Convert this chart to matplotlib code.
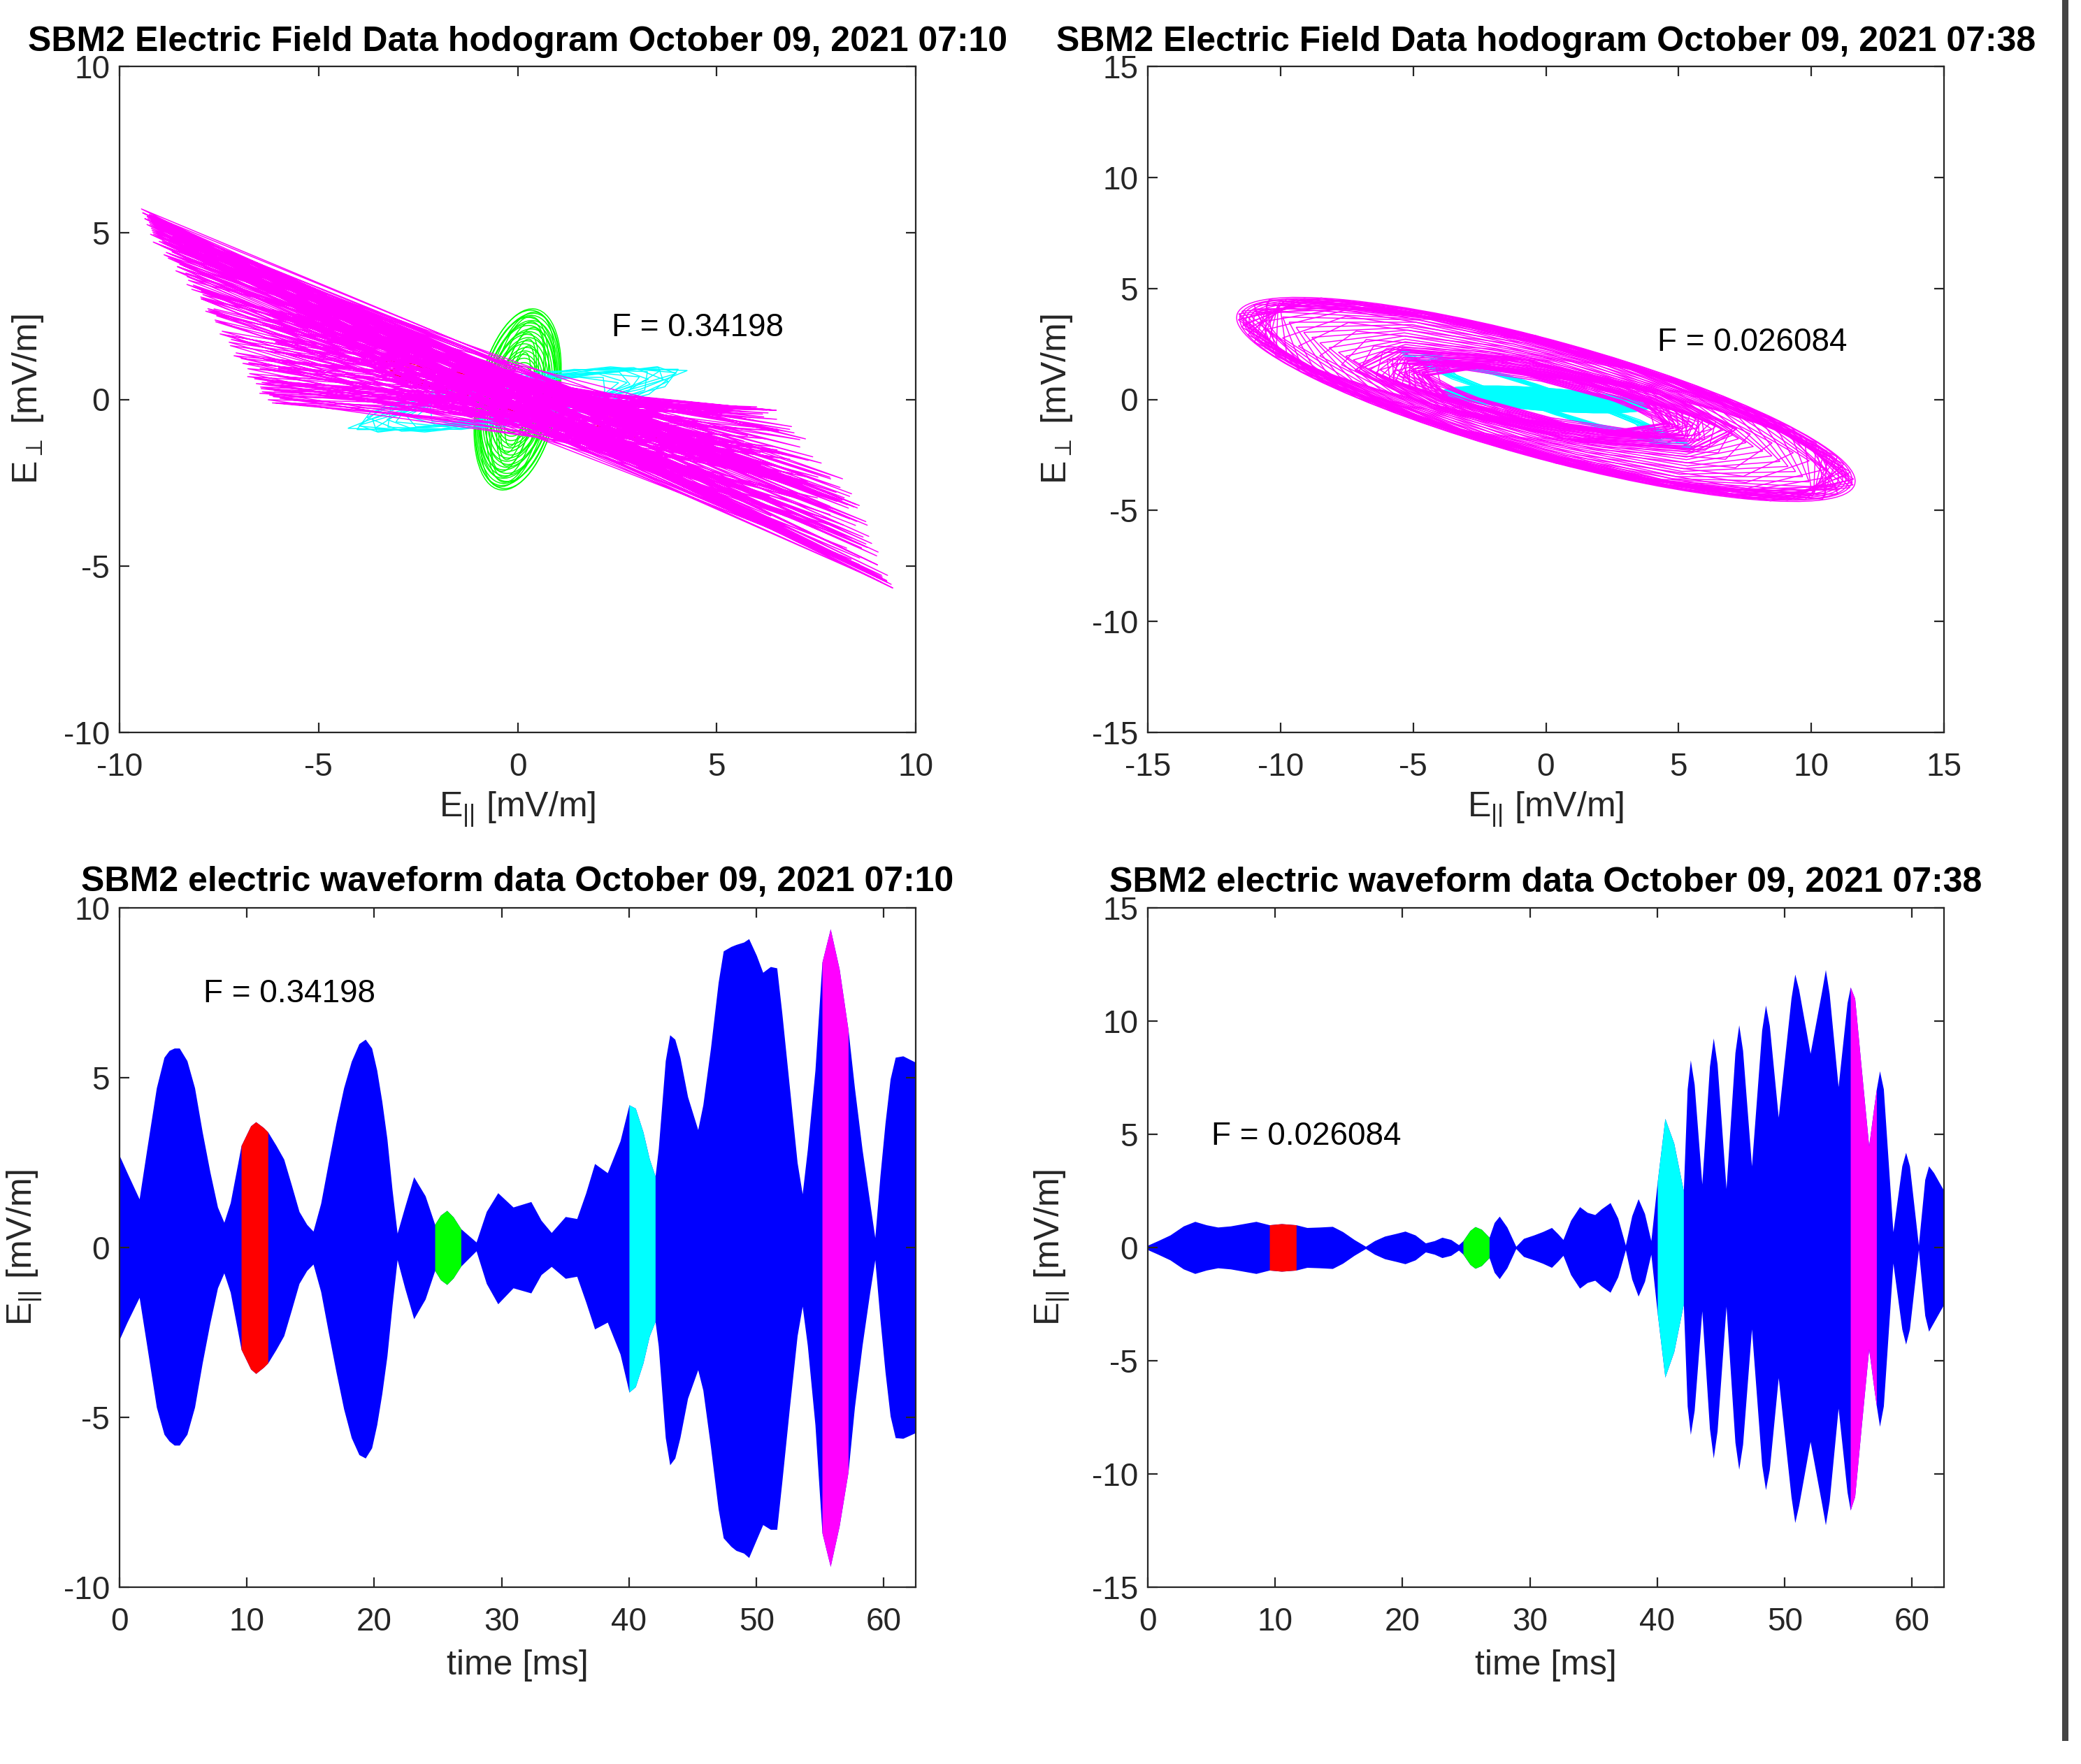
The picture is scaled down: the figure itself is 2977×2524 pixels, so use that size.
import numpy as np
import matplotlib
matplotlib.use("Agg")
import matplotlib.pyplot as plt
from matplotlib.patches import Ellipse, PathPatch, Rectangle
from matplotlib.path import Path
from matplotlib.transforms import Affine2D

# ---------------------------------------------------------------- text
TITLE_TL = "SBM2 Electric Field Data hodogram October 09, 2021 07:10"
TITLE_TR = "SBM2 Electric Field Data hodogram October 09, 2021 07:38"
TITLE_BL = "SBM2 electric waveform data October 09, 2021 07:10"
TITLE_BR = "SBM2 electric waveform data October 09, 2021 07:38"
F_TEXT_1 = "F = 0.34198"
F_TEXT_2 = "F = 0.026084"
XLAB_HODO = r"E$_{||}$ [mV/m]"
YLAB_HODO = r"E$_{\perp}$ [mV/m]"
XLAB_WAVE = "time [ms]"
YLAB_WAVE = r"E$_{||}$ [mV/m]"

# ---------------------------------------------------------------- segments
SEG_START = [9.55, 24.75, 40.0, 55.15]
SEG_END = [11.65, 26.8, 42.05, 57.2]
SEG_COLORS = ["#FF0000", "#00FF00", "#00FFFF", "#FF00FF"]
WAVE_COLOR = "#0000FF"

# ---------------------------------------------------------------- waveform envelopes (07:10)
BL_T = [0.0, 0.6, 1.55, 2.15, 2.9, 3.5, 3.9, 4.3, 4.7, 5.3,
        5.9, 6.5, 7.1, 7.7, 8.2, 8.7, 9.3, 9.55, 10.3, 10.7,
        11.3, 11.65, 12.3, 12.9, 13.5, 14.1, 14.7, 15.2, 15.8, 16.4,
        17.0, 17.6, 18.2, 18.8, 19.3, 19.8, 20.2, 20.6, 21.0, 21.4,
        21.8, 22.4, 23.1, 24.0, 24.75, 25.2, 25.7, 26.2, 26.8, 28.0,
        28.8, 29.7, 30.9, 32.3, 33.1, 33.9, 35.0, 35.9, 36.6, 37.3,
        38.3, 39.3, 40.0, 40.5, 41.1, 41.6, 42.05, 42.3, 42.85, 43.2,
        43.6, 44.0, 44.6, 45.4, 45.8, 46.4, 47.0, 47.4, 48.0, 48.4,
        49.0, 49.4, 50.0, 50.5, 51.1, 51.6, 52.0, 52.6, 53.2, 53.6,
        54.0, 54.6, 55.15, 55.8, 56.5, 57.2, 57.7, 58.3, 58.9, 59.3,
        59.7, 60.1, 60.5, 60.9, 61.5, 62.5]
BL_UP = [2.7, 2.2, 1.43, 2.9, 4.7, 5.6, 5.8, 5.87, 5.87, 5.5,
         4.7, 3.4, 2.23, 1.19, 0.74, 1.32, 2.5, 3.0, 3.58, 3.7,
         3.53, 3.4, 3.0, 2.6, 1.84, 1.06, 0.68, 0.48, 1.3, 2.5,
         3.66, 4.7, 5.48, 6.0, 6.13, 5.87, 5.22, 4.3, 3.2, 1.71,
         0.42, 1.2, 2.08, 1.52, 0.68, 0.95, 1.09, 0.9, 0.55, 0.16,
         1.06, 1.61, 1.19, 1.35, 0.8, 0.44, 0.91, 0.85, 1.6, 2.47,
         2.2, 3.14, 4.2, 4.1, 3.4, 2.6, 2.1, 2.9, 5.5, 6.26,
         6.13, 5.6, 4.44, 3.47, 4.2, 5.87, 7.8, 8.73, 8.86, 8.92,
         8.99, 9.09, 8.6, 8.1, 8.27, 8.23, 6.9, 4.7, 2.5, 1.58,
         2.88, 5.22, 8.4, 9.38, 8.2, 6.4, 4.7, 2.88, 1.32, 0.29,
         2.1, 3.66, 4.96, 5.6, 5.64, 5.45]
BL_LO = [-2.7, -2.2, -1.47, -2.9, -4.7, -5.5, -5.7, -5.82, -5.82, -5.5,
         -4.7, -3.4, -2.23, -1.19, -0.75, -1.32, -2.5, -3.0, -3.58, -3.71,
         -3.53, -3.4, -3.0, -2.6, -1.84, -1.06, -0.68, -0.49, -1.3, -2.5,
         -3.66, -4.75, -5.6, -6.1, -6.2, -5.9, -5.22, -4.3, -3.2, -1.71,
         -0.36, -1.2, -2.1, -1.52, -0.68, -0.95, -1.09, -0.9, -0.55, -0.1,
         -1.06, -1.66, -1.19, -1.34, -0.8, -0.56, -0.91, -0.85, -1.6, -2.4,
         -2.2, -3.14, -4.26, -4.1, -3.4, -2.6, -2.18, -2.9, -5.6, -6.4,
         -6.2, -5.6, -4.44, -3.6, -4.2, -5.87, -7.7, -8.55, -8.8, -8.92,
         -9.0, -9.13, -8.6, -8.16, -8.3, -8.3, -6.9, -4.7, -2.6, -1.73,
         -2.88, -5.22, -8.4, -9.39, -8.2, -6.6, -4.7, -2.88, -1.32, -0.36,
         -2.1, -3.66, -4.96, -5.6, -5.62, -5.45]

# ---------------------------------------------------------------- waveform envelopes (07:38)
BR_T = [0.0, 0.8, 1.75, 2.8, 3.7, 4.6, 5.5, 6.5, 7.5, 8.5,
        9.55, 10.5, 11.65, 12.5, 13.5, 14.5, 15.3, 16.2, 17.1, 17.8,
        18.6, 19.5, 20.2, 21.0, 21.8, 22.5, 23.1, 23.8, 24.4, 24.75,
        25.3, 25.7, 26.2, 26.8, 27.2, 27.6, 28.2, 28.9, 29.5, 30.3,
        31.0, 31.7, 32.2, 32.6, 33.2, 33.9, 34.5, 35.1, 35.6, 36.3,
        36.9, 37.5, 38.0, 38.5, 39.0, 39.5, 40.0, 40.6, 41.3, 42.05,
        42.35, 42.6, 42.9, 43.5, 44.1, 44.4, 44.7, 45.4, 46.1, 46.4,
        46.7, 47.4, 48.2, 48.5, 48.8, 49.5, 50.5, 50.8, 51.1, 52.0,
        52.9, 53.2, 53.5, 54.2, 54.9, 55.15, 55.5, 56.0, 56.6, 57.0,
        57.2, 57.45, 57.75, 58.5, 59.2, 59.5, 59.8, 60.5, 61.0, 61.3,
        61.7, 62.5]
BR_UP = [0.1, 0.3, 0.55, 0.95, 1.15, 1.0, 0.9, 0.95, 1.05, 1.15,
         1.0, 1.05, 1.0, 0.88, 0.9, 0.93, 0.7, 0.35, 0.05, 0.3,
         0.5, 0.62, 0.72, 0.55, 0.2, 0.3, 0.45, 0.35, 0.12, 0.3,
         0.75, 0.92, 0.8, 0.45, 1.1, 1.38, 0.9, 0.05, 0.4, 0.55,
         0.7, 0.88, 0.6, 0.35, 1.2, 1.8, 1.55, 1.45, 1.7, 1.98,
         1.3, 0.1, 1.4, 2.15, 1.5, 0.3, 2.9, 5.7, 4.6, 2.5,
         7.0, 8.28, 7.2, 2.8, 8.0, 9.25, 8.1, 2.6, 8.6, 9.83,
         8.7, 3.6, 9.6, 10.7, 9.8, 5.75, 11.0, 12.07, 11.4, 8.57,
         11.3, 12.27, 11.2, 7.1, 10.8, 11.5, 11.0, 8.0, 4.48, 6.2,
         7.0, 7.8, 7.0, 0.69, 3.6, 4.2, 3.6, 0.1, 3.0, 3.6,
         3.3, 2.5]
BR_LO = [-0.1, -0.3, -0.55, -0.95, -1.15, -1.0, -0.9, -0.95, -1.05, -1.15,
         -1.0, -1.05, -1.0, -0.88, -0.9, -0.93, -0.7, -0.35, -0.05, -0.3,
         -0.5, -0.62, -0.72, -0.55, -0.2, -0.3, -0.45, -0.35, -0.12, -0.3,
         -0.75, -0.92, -0.8, -0.45, -1.1, -1.38, -0.9, -0.05, -0.4, -0.55,
         -0.7, -0.88, -0.6, -0.35, -1.2, -1.8, -1.55, -1.45, -1.7, -1.98,
         -1.3, -0.1, -1.4, -2.15, -1.5, -0.3, -2.9, -5.73, -4.6, -2.5,
         -7.0, -8.26, -7.2, -2.8, -8.0, -9.3, -8.1, -2.6, -8.6, -9.8,
         -8.7, -3.6, -9.6, -10.7, -9.8, -5.75, -11.0, -12.15, -11.4, -8.57,
         -11.3, -12.25, -11.2, -7.1, -10.8, -11.6, -11.0, -8.0, -4.48, -6.2,
         -7.0, -7.9, -7.0, -0.69, -3.6, -4.27, -3.6, -0.1, -3.0, -3.7,
         -3.3, -2.5]

# ---------------------------------------------------------------- hodogram 07:10
TL_RED_A = [3.86, 3.75, 3.64, 3.52, 3.4, 3.28, 3.15, 3.0]
TL_RED_B = [0.4, 0.36, 0.42, 0.33, 0.38, 0.3, 0.35, 0.28]
TL_RED_TILT = [-16.5, -16.0, -17.0, -16.2, -16.8, -15.8, -16.5, -17.2]
TL_GREEN_A = [2.75, 2.7, 2.62, 2.55, 2.48, 2.4, 2.32, 2.24, 2.15, 2.06,
              1.97, 1.88, 1.78, 1.68, 1.58, 1.47, 1.36, 1.25, 1.12, 1.0,
              2.66, 2.51, 2.36, 2.2, 2.02, 1.83, 1.63, 1.42]
TL_GREEN_B = [1.02, 1.0, 0.98, 0.96, 0.94, 0.92, 0.9, 0.88, 0.85, 0.82,
              0.79, 0.76, 0.72, 0.68, 0.64, 0.6, 0.56, 0.52, 0.48, 0.43,
              0.82, 0.7, 0.6, 0.52, 0.45, 0.38, 0.32, 0.26]
TL_GREEN_TILT = [81, 82, 80, 81, 83, 80, 81, 82, 79, 81,
                 82, 80, 81, 83, 80, 81, 82, 81, 80, 81,
                 80, 82, 81, 79, 82, 81, 80, 82]
TL_CYAN_A = [4.35, 4.28, 4.2, 4.1, 3.98, 3.85, 3.7, 3.55, 3.4, 3.2, 3.0, 2.8, 2.6, 2.4]
TL_CYAN_B = [0.45, 0.6, 0.4, 0.7, 0.5, 0.75, 0.55, 0.7, 0.5, 0.65, 0.55, 0.6, 0.5, 0.55]
TL_CYAN_TILT = [11.5, 10.5, 12.5, 10, 12, 9.5, 13, 10.5, 12, 10, 12.5, 11, 10, 12]
TL_CYAN_PHASE = [0, 15, 30, 8, 23, 38, 4, 19, 34, 12, 27, 42, 6, 21]
# magenta: corner points of the hodogram and per-half-cycle position/amplitude
TL_MAG_UL = (-9.45, 5.72)
TL_MAG_L = (-7.7, -0.13)
TL_MAG_LR = (9.42, -5.66)
TL_MAG_R = (7.6, -0.28)
TL_MAG_S = [0.45, 0.38, 0.41, 0.32, 0.35, 0.26, 0.29, 0.20, 0.23, 0.15,
            0.17, 0.10, 0.12, 0.05, 0.08, 0.02, 0.04, 0.00, 0.03, 0.01,
            0.06, 0.10, 0.07, 0.14, 0.18, 0.13, 0.23, 0.28, 0.24, 0.34,
            0.40, 0.36, 0.47, 0.53, 0.49, 0.60, 0.66, 0.62, 0.73, 0.79,
            0.75, 0.85, 0.90, 0.87, 0.95, 1.00, 0.96, 0.92, 0.97, 0.88,
            0.82, 0.76, 0.70, 0.64, 0.57, 0.50, 0.44, 0.37, 0.31, 0.25,
            0.20, 0.15, 0.22, 0.11, 0.17, 0.07, 0.13, 0.04, 0.09, 0.02,
            0.06, 0.01, 0.05, 0.10, 0.03, 0.12, 0.18, 0.14, 0.24, 0.30,
            0.26, 0.35, 0.41, 0.37, 0.46, 0.52, 0.48, 0.58, 0.64, 0.60,
            0.70, 0.76, 0.72, 0.82, 0.88, 0.84, 0.93, 0.98, 0.94, 1.00,
            0.91, 0.86, 0.78, 0.71, 0.65, 0.55, 0.47, 0.39, 0.33, 0.27,
            0.21, 0.16, 0.11, 0.07, 0.03, 0.00, 0.04, 0.08, 0.15, 0.22]
TL_MAG_R_POS = [0.75, 0.13, 0.81, 0.22, 0.50, 0.00, 0.54, 0.20, 0.03, 0.50,
                0.05, 0.52, 0.17, 0.35, 0.00, 0.20, 0.44, 0.02, 0.28, 0.11,
                0.44, 0.00, 0.22, 0.44, 0.03, 0.18, 0.58, 0.03, 0.44, 0.29,
                0.70, 0.06, 0.57, 0.33, 0.84, 0.25, 0.86, 0.52, 0.98, 0.49,
                0.85, 0.65, 0.98, 0.52, 0.95, 0.72, 1.00, 0.77, 0.57, 0.98,
                0.57, 0.96, 0.65, 0.94, 0.27, 0.65, 0.29, 0.72, 0.11, 0.50,
                0.48, 0.03, 0.60, 0.03, 0.37, 0.02, 0.46, 0.04, 0.24, 0.07,
                0.46, 0.11, 0.00, 0.35, 0.03, 0.42, 0.03, 0.26, 0.59, 0.10,
                0.46, 0.05, 0.46, 0.67, 0.21, 0.67, 0.38, 0.88, 0.29, 0.80,
                0.55, 0.98, 0.42, 0.92, 0.68, 0.98, 0.55, 0.98, 0.84, 0.70,
                0.96, 0.64, 0.93, 0.36, 0.90, 0.45, 0.77, 0.19, 0.68, 0.22,
                0.51, 0.16, 0.51, 0.17, 0.23, 0.05, 0.39, 0.03, 0.35, 0.32]
TL_MAG_AMP = [0.88, 0.90, 0.91, 0.93, 0.94, 0.95, 0.96, 0.97, 0.97, 0.98,
              0.98, 0.99, 0.99, 1.00, 1.00, 1.00, 0.99, 1.00, 0.99, 0.98,
              0.98, 0.97, 0.97, 0.96, 0.95, 0.95, 0.94, 0.93, 0.93, 0.92,
              0.91, 0.90, 0.90, 0.89, 0.88, 0.87, 0.87, 0.86, 0.85, 0.84,
              0.83, 0.83, 0.82, 0.81, 0.80, 0.79, 0.79, 0.78, 0.77, 0.76,
              0.75, 0.74, 0.74, 0.73, 0.72, 0.71, 0.71, 0.70, 0.69, 0.68,
              0.96, 0.97, 0.98, 0.99, 1.00, 0.99, 1.00, 0.98, 0.99, 1.00,
              0.99, 0.98, 1.00, 0.97, 0.99, 0.96, 0.95, 0.97, 0.94, 0.93,
              0.95, 0.92, 0.91, 0.93, 0.90, 0.89, 0.91, 0.88, 0.87, 0.89,
              0.86, 0.85, 0.87, 0.84, 0.83, 0.85, 0.82, 0.81, 0.83, 0.80,
              0.82, 0.79, 0.80, 0.78, 0.76, 0.74, 0.72, 0.70, 0.66, 0.62,
              0.58, 0.62, 0.68, 0.74, 0.80, 0.86, 0.90, 0.93, 0.95, 0.96]

# ---------------------------------------------------------------- hodogram 07:38
TR_RED_A = [1.15, 1.0, 0.9]
TR_RED_B = [0.2, 0.18, 0.15]
TR_RED_TILT = [-6, -5, -6]
TR_GREEN_A = [0.95, 0.8]
TR_GREEN_B = [0.3, 0.25]
TR_GREEN_TILT = [-8, -6]
TR_CYAN_CORE_A = [3.9, 3.8, 3.65, 3.5, 3.3, 3.1, 2.9, 2.6, 2.3, 2.0, 1.7, 1.4, 1.1]
TR_CYAN_CORE_B = [0.5, 0.48, 0.46, 0.44, 0.42, 0.4, 0.37, 0.34, 0.3, 0.26, 0.22, 0.18, 0.14]
TR_CYAN_CORE_TILT = [-5, -5, -5.5, -4.5, -5, -5.5, -5, -4.5, -5, -5, -5.5, -5, -5]
TR_CYAN_OUT_A = [6.0, 5.9, 5.8, 5.65, 5.5, 5.35, 5.15, 4.95, 4.75, 4.55, 4.35, 4.15]
TR_CYAN_OUT_B = [0.5, 0.48, 0.52, 0.46, 0.5, 0.44, 0.48, 0.42, 0.46, 0.4, 0.44, 0.4]
TR_CYAN_OUT_TILT = [-21.5, -22, -21, -21.5, -22.5, -20.5, -21.5, -22, -21, -21.5, -20.5, -21]
TR_CYAN_OUT_PHASE = [0, 3, 6, 9, 12, 15, 18, 21, 24, 27, 30, 33]
TR_MAG_A = [12.2, 12.15, 12.1, 12.2, 12.05, 12.15, 12.0, 11.95, 12.1, 11.9,
            11.85, 11.7, 11.5, 11.2, 10.9, 10.5, 10.1, 9.7, 9.3, 8.9,
            8.5, 8.1, 7.8, 7.5, 7.3, 7.1, 6.9, 6.7, 6.5, 6.3,
            6.1, 5.9, 5.7, 5.5, 5.3, 5.1, 4.9, 4.7, 4.6, 4.7,
            5.0, 5.4, 5.9, 6.4, 6.9, 7.2, 7.4, 7.5,
            12.2, 12.0, 11.8, 12.1, 11.9, 11.6, 12.15, 11.75, 11.4, 11.0,
            10.4, 9.8, 9.0, 8.2, 7.6, 7.0, 6.4, 5.8, 5.3, 4.9,
            4.7, 4.8, 5.2, 5.6,
            4.5, 4.8, 5.1, 5.4, 5.7, 6.0, 6.3, 6.6, 4.6, 5.0, 5.5, 6.1]
TR_MAG_B = [2.6, 2.58, 2.6, 2.62, 2.55, 2.6, 2.57, 2.54, 2.6, 2.52,
            2.5, 2.47, 2.43, 2.37, 2.31, 2.23, 2.15, 2.06, 1.98, 1.9,
            1.82, 1.74, 1.68, 1.62, 1.58, 1.54, 1.5, 1.46, 1.42, 1.38,
            1.34, 1.3, 1.26, 1.22, 1.18, 1.14, 1.1, 1.06, 1.04, 1.06,
            1.12, 1.2, 1.3, 1.4, 1.5, 1.56, 1.6, 1.62,
            2.6, 2.55, 2.5, 2.58, 2.53, 2.47, 2.6, 2.5, 2.42, 2.35,
            2.22, 2.08, 1.92, 1.76, 1.64, 1.52, 1.4, 1.28, 1.18, 1.1,
            1.05, 1.07, 1.15, 1.22,
            0.75, 0.8, 0.85, 0.9, 0.95, 1.0, 1.05, 1.1, 0.9, 0.95, 1.0, 1.1]
TR_MAG_TILT = [-18.4, -18.4, -18.3, -18.5, -18.4, -18.3, -18.4, -18.5, -18.3, -18.4,
               -18.3, -18.2, -18.0, -17.8, -17.5, -17.2, -16.9, -16.6, -16.3, -16.0,
               -15.7, -15.4, -15.1, -14.8, -14.5, -14.3, -14.1, -13.9, -13.7, -13.5,
               -13.3, -13.1, -12.9, -12.7, -12.5, -12.3, -12.1, -12.0, -12.0, -12.1,
               -12.3, -12.5, -12.7, -12.9, -13.0, -13.1, -13.2, -13.2,
               -18.4, -18.3, -18.5, -18.4, -18.2, -18.4, -18.3, -18.5, -18.1, -17.8,
               -17.3, -16.8, -16.0, -15.2, -14.6, -14.0, -13.5, -13.0, -12.6, -12.3,
               -12.0, -12.1, -12.4, -12.7,
               -15.0, -15.5, -16.0, -16.5, -15.0, -14.5, -14.0, -13.5, -17.0, -16.0,
               -15.0, -14.0]
TR_MAG_PHASE = [0, 2, 4, 6, 9, 11, 13, 15, 17, 20,
                22, 24, 26, 28, 31, 33, 35, 37, 39, 42,
                44, 46, 48, 50, 53, 55, 57, 59, 61, 64,
                66, 68, 70, 72, 75, 77, 79, 81, 83, 86,
                88, 90, 92, 94, 97, 99, 101, 103,
                23, 26, 29, 32, 35, 38, 41, 44, 47, 50,
                53, 56, 59, 62, 65, 68, 71, 74, 77, 80,
                83, 86, 89, 92,
                5, 8, 11, 14, 17, 20, 23, 26, 29, 32, 35, 38]
TR_MAG_RING_A = [12.25, 12.12, 12.0, 11.88, 11.75, 11.6]
TR_MAG_RING_B = [2.62, 2.6, 2.57, 2.55, 2.52, 2.49]
TR_MAG_RING_TILT = [-18.4, -18.3, -18.5, -18.4, -18.3, -18.4]

# ---------------------------------------------------------------- style
plt.rcParams["font.family"] = ["Liberation Sans", "DejaVu Sans"]
plt.rcParams["axes.unicode_minus"] = False
plt.rcParams["mathtext.default"] = "regular"

W, H = 2977, 2524
fig = plt.figure(figsize=(W / 100, H / 100), dpi=100)
fig.patch.set_facecolor("white")
GREY = "#262626"
LOOP_LW = 1.05
N_SAMPLES = 8


def axes_px(x0, y0, x1, y1):
    return fig.add_axes([x0 / W, 1 - y1 / H, (x1 - x0) / W, (y1 - y0) / H])


def style(ax, lim_x, lim_y, ticks_x, ticks_y):
    ax.set_xlim(*lim_x)
    ax.set_ylim(*lim_y)
    ax.set_xticks(ticks_x)
    ax.set_yticks(ticks_y)
    ax.tick_params(direction="in", length=10, width=1.6, top=True, right=True,
                   labelsize=33, colors=GREY)
    ax.tick_params(axis="x", pad=20)
    ax.tick_params(axis="y", pad=10)
    for sp in ax.spines.values():
        sp.set_linewidth(1.6)
        sp.set_color(GREY)


def labels(ax, xl, yl, xl_y, yl_x):
    ax.set_xlabel(xl, fontsize=36, color=GREY)
    ax.xaxis.set_label_coords(0.5, xl_y)
    ax.xaxis.label.set_va("center")
    ax.set_ylabel(yl, fontsize=36, color=GREY)
    ax.yaxis.set_label_coords(yl_x, 0.5)
    ax.yaxis.label.set_va("center")


def ellipse_loops(ax, a_list, b_list, tilt_list, color, fill=False):
    for a, b, t in zip(a_list, b_list, tilt_list):
        ax.add_patch(Ellipse((0, 0), 2 * a, 2 * b, angle=t, fill=fill,
                             facecolor=color, edgecolor=color, lw=LOOP_LW))


def polygon_loops(ax, a_list, b_list, tilt_list, phase_list, color):
    base = Path.unit_regular_polygon(N_SAMPLES)
    for a, b, t, p in zip(a_list, b_list, tilt_list, phase_list):
        tr = Affine2D().rotate_deg(p).scale(a, b).rotate_deg(t) + ax.transData
        ax.add_patch(PathPatch(base, transform=tr, fill=False,
                               edgecolor=color, lw=LOOP_LW))


# ---------------------------------------------------------------- top-left hodogram
ax1 = axes_px(171, 95, 1310, 1048)
style(ax1, (-10, 10), (-10, 10), [-10, -5, 0, 5, 10], [-10, -5, 0, 5, 10])
ellipse_loops(ax1, TL_RED_A, TL_RED_B, TL_RED_TILT, SEG_COLORS[0])
ellipse_loops(ax1, TL_GREEN_A, TL_GREEN_B, TL_GREEN_TILT, SEG_COLORS[1])
polygon_loops(ax1, TL_CYAN_A, TL_CYAN_B, TL_CYAN_TILT, TL_CYAN_PHASE, SEG_COLORS[2])
ul = np.array(TL_MAG_UL); lc = np.array(TL_MAG_L)
lr = np.array(TL_MAG_LR); rc = np.array(TL_MAG_R)
s = np.array(TL_MAG_S)[:, None]
r = np.array(TL_MAG_R_POS)[:, None]
amp = np.array(TL_MAG_AMP)[:, None]
left_pts = amp * ((1 - s) * ul + s * lc)
right_pts = amp * ((1 - r) * lr + r * rc)
path_pts = np.empty((2 * len(s), 2))
path_pts[0::2] = left_pts
path_pts[1::2] = right_pts
ax1.plot(path_pts[:, 0], path_pts[:, 1], color=SEG_COLORS[3], lw=LOOP_LW)
ax1.text(2.36, 2.15, F_TEXT_1, fontsize=33, ha="left", va="center", color="black")
ax1.set_title(TITLE_TL, fontsize=36, fontweight="bold", pad=16.0, color="black")
labels(ax1, XLAB_HODO, YLAB_HODO, -0.1154, -0.115)

# ---------------------------------------------------------------- top-right hodogram
ax2 = axes_px(1642, 95, 2781, 1048)
style(ax2, (-15, 15), (-15, 15), [-15, -10, -5, 0, 5, 10, 15],
      [-15, -10, -5, 0, 5, 10, 15])
ellipse_loops(ax2, TR_RED_A, TR_RED_B, TR_RED_TILT, SEG_COLORS[0])
ellipse_loops(ax2, TR_GREEN_A, TR_GREEN_B, TR_GREEN_TILT, SEG_COLORS[1])
polygon_loops(ax2, TR_CYAN_OUT_A, TR_CYAN_OUT_B, TR_CYAN_OUT_TILT,
              TR_CYAN_OUT_PHASE, SEG_COLORS[2])
ellipse_loops(ax2, TR_CYAN_CORE_A[:1], TR_CYAN_CORE_B[:1], TR_CYAN_CORE_TILT[:1],
              SEG_COLORS[2], fill=True)
ellipse_loops(ax2, TR_CYAN_CORE_A, TR_CYAN_CORE_B, TR_CYAN_CORE_TILT, SEG_COLORS[2])
ellipse_loops(ax2, TR_MAG_RING_A, TR_MAG_RING_B, TR_MAG_RING_TILT, SEG_COLORS[3])
polygon_loops(ax2, TR_MAG_A, TR_MAG_B, TR_MAG_TILT, TR_MAG_PHASE, SEG_COLORS[3])
ax2.text(4.2, 2.57, F_TEXT_2, fontsize=33, ha="left", va="center", color="black")
ax2.set_title(TITLE_TR, fontsize=36, fontweight="bold", pad=16.0, color="black")
labels(ax2, XLAB_HODO, YLAB_HODO, -0.1154, -0.114)


# ---------------------------------------------------------------- waveforms
def waveform(ax, t, up, lo):
    t = np.array(t); up = np.array(up); lo = np.array(lo)
    ax.fill_between(t, lo, up, color=WAVE_COLOR, lw=0)
    for a, b, c in zip(SEG_START, SEG_END, SEG_COLORS):
        m = (t >= a) & (t <= b)
        ax.fill_between(t, lo, up, where=m, color=c, lw=0)


ax3 = axes_px(171, 1299, 1310, 2271)
style(ax3, (0, 62.5), (-10, 10), [0, 10, 20, 30, 40, 50, 60], [-10, -5, 0, 5, 10])
waveform(ax3, BL_T, BL_UP, BL_LO)
ax3.text(6.56, 7.47, F_TEXT_1, fontsize=33, ha="left", va="center", color="black")
ax3.set_title(TITLE_BL, fontsize=36, fontweight="bold", pad=17.0, color="black")
labels(ax3, XLAB_WAVE, YLAB_WAVE, -0.1152, -0.119)

ax4 = axes_px(1642, 1299, 2781, 2271)
style(ax4, (0, 62.5), (-15, 15), [0, 10, 20, 30, 40, 50, 60],
      [-15, -10, -5, 0, 5, 10, 15])
waveform(ax4, BR_T, BR_UP, BR_LO)
ax4.text(4.99, 4.92, F_TEXT_2, fontsize=33, ha="left", va="center", color="black")
ax4.set_title(TITLE_BR, fontsize=36, fontweight="bold", pad=16.5, color="black")
labels(ax4, XLAB_WAVE, YLAB_WAVE, -0.1152, -0.12)

# window edge seen at the right of the screenshot
fig.add_artist(Rectangle((2950 / W, 1 - 2491 / H), 9 / W, 2491 / H,
                         transform=fig.transFigure, color="#454545", lw=0))

fig.savefig("out.png", dpi=100, facecolor="white")
